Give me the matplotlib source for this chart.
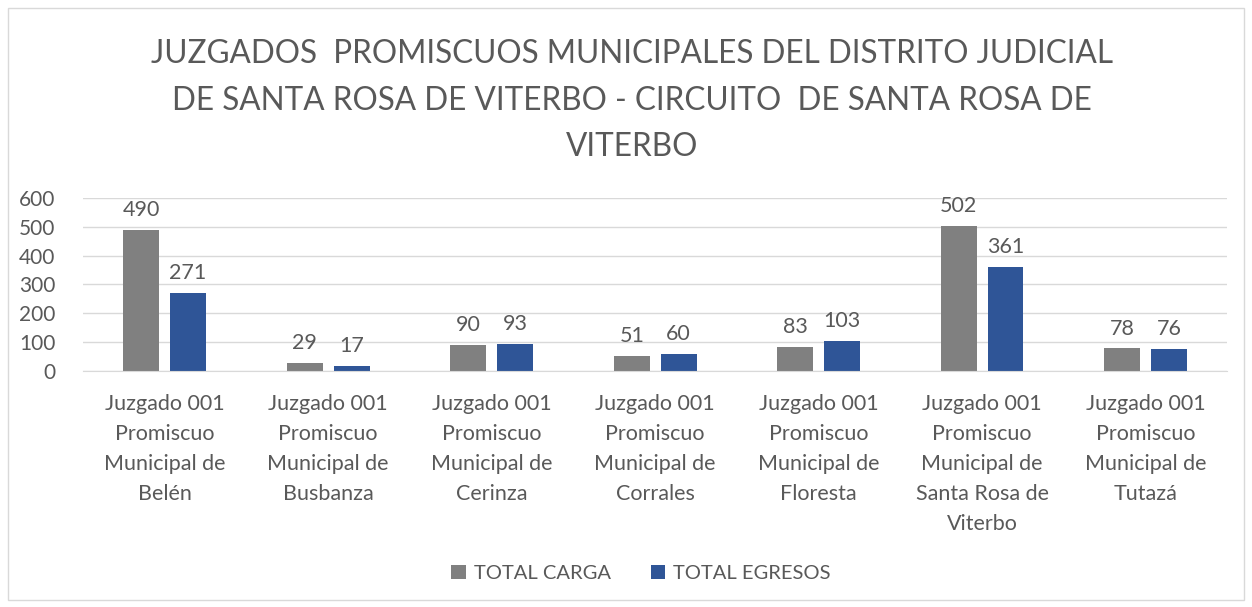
import numpy as np
import matplotlib.pyplot as plt
from matplotlib.patches import Rectangle

plt.rcParams['font.family'] = ['Lato', 'DejaVu Sans']

juzgados = [
    "Juzgado 001\nPromiscuo\nMunicipal de\nBelén",
    "Juzgado 001\nPromiscuo\nMunicipal de\nBusbanza",
    "Juzgado 001\nPromiscuo\nMunicipal de\nCerinza",
    "Juzgado 001\nPromiscuo\nMunicipal de\nCorrales",
    "Juzgado 001\nPromiscuo\nMunicipal de\nFloresta",
    "Juzgado 001\nPromiscuo\nMunicipal de\nSanta Rosa de\nViterbo",
    "Juzgado 001\nPromiscuo\nMunicipal de\nTutazá",
]
total_carga = [490, 29, 90, 51, 83, 502, 78]
total_egresos = [271, 17, 93, 60, 103, 361, 76]

txt = '#595959'
gris = '#808080'
azul = '#2F5597'

fig = plt.figure(figsize=(12.52, 6.07), dpi=100)
ax = fig.add_axes([0.0663, 0.389, 0.914, 0.285])

x = np.arange(len(juzgados))
w = 0.22
b1 = ax.bar(x - 0.143, total_carga, w, color=gris, label='TOTAL CARGA')
b2 = ax.bar(x + 0.143, total_egresos, w, color=azul, label='TOTAL EGRESOS')
for bars in (b1, b2):
    ax.bar_label(bars, padding=7, fontsize=15.5, color=txt)

ax.set_xlim(-0.5, len(juzgados) - 0.5)
ax.set_ylim(0, 600)
ax.set_yticks(range(0, 601, 100))
ax.yaxis.grid(True, color='#D9D9D9', linewidth=1)
ax.set_axisbelow(True)
for s in ax.spines.values():
    s.set_visible(False)
ax.spines['bottom'].set_visible(True)
ax.spines['bottom'].set_color('#D9D9D9')
ax.tick_params(axis='both', length=0, labelsize=15, colors=txt)
ax.tick_params(axis='y', pad=20)
ax.set_xticks(x)
ax.set_xticklabels(juzgados, linespacing=1.61, fontsize=15.5)
ax.tick_params(axis='x', pad=17)

fig.text(0.505, 0.935,
         "JUZGADOS  PROMISCUOS MUNICIPALES DEL DISTRITO JUDICIAL\n"
         "DE SANTA ROSA DE VITERBO - CIRCUITO  DE SANTA ROSA DE\n"
         "VITERBO",
         ha='center', va='top', fontsize=22.7, color=txt, linespacing=1.68)

fig.legend(loc='center', bbox_to_anchor=(0.512, 0.055), ncol=2, frameon=False,
           fontsize=14.5, labelcolor=txt, handlelength=0.7, handleheight=0.7,
           handletextpad=0.4, columnspacing=2.0)

fig.patches.append(Rectangle((0.006, 0.012), 0.988, 0.975, transform=fig.transFigure,
                             fill=False, edgecolor='#D9D9D9', linewidth=1))

fig.savefig('out.png', dpi=100)
